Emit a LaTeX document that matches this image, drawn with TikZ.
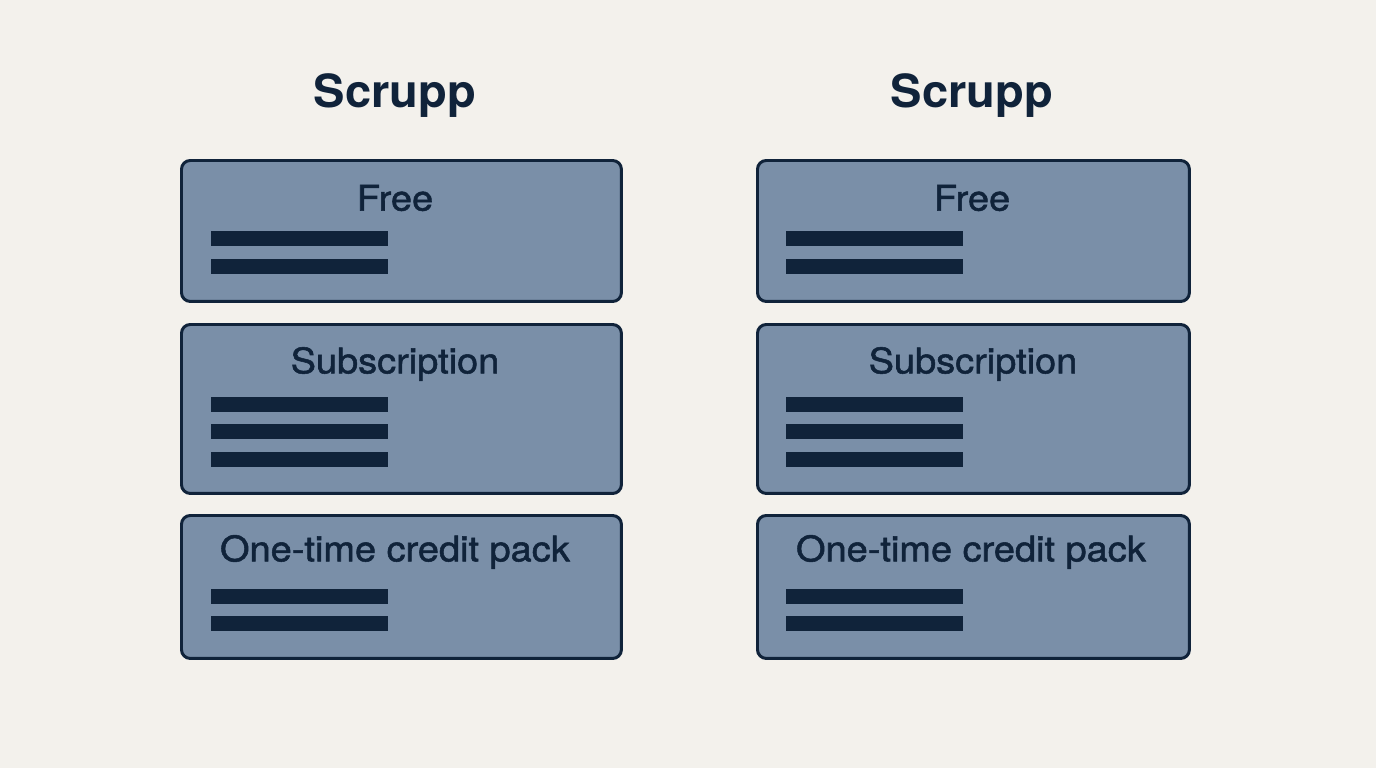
\documentclass[tikz,border=0pt]{standalone}
\usepackage{fontspec}
\setmainfont{TeX Gyre Heros}
\newfontfamily\lblfont[FakeBold=1.5, FakeStretch=1.08]{TeX Gyre Heros}
\newfontfamily\ttlfont[FakeStretch=1.03]{TeX Gyre Heros}
\usetikzlibrary{positioning}
\definecolor{bgcream}{HTML}{F3F1EC}
\definecolor{tierfill}{HTML}{7A8FA8}
\definecolor{inkdark}{HTML}{10233A}

\begin{document}
\begin{tikzpicture}[x=0.02cm, y=-0.02cm,
  tier/.style={rectangle, rounded corners=5pt, draw=inkdark, line width=1.7pt,
    fill=tierfill, anchor=north west, inner sep=0pt},
  tierL/.style={tier, minimum width=8.8cm},
  tierR/.style={tier, minimum width=8.64cm},
  ttl/.style={font=\ttlfont\fontsize{26}{30}\selectfont\bfseries, text=inkdark},
  lbl/.style={font=\lblfont\fontsize{20}{24}\selectfont, text=inkdark},
  bar/.style={fill=inkdark},
]
  \fill[bgcream] (0,0) rectangle (1376,768);
  \useasboundingbox (0,0) rectangle (1376,768);

  % titles
  \node[ttl] (ttlL) at (395,96) {Scrupp};
  \node[ttl] (ttlR) at (972,96) {Scrupp};

  % left column
  \node[tierL, minimum height=2.82cm] (freeL) at (180,159) {};
  \node[tierL, minimum height=3.38cm] (subL)  at (180,323) {};
  \node[tierL, minimum height=2.86cm] (packL) at (180,514) {};

  % right column
  \node[tierR, minimum height=2.82cm] (freeR) at (756,159) {};
  \node[tierR, minimum height=3.38cm] (subR)  at (756,323) {};
  \node[tierR, minimum height=2.86cm] (packR) at (756,514) {};

  % tier names
  \node[lbl] (freeLtxt) at (395,198) {Free};
  \node[lbl] (subLtxt)  at (395,364) {Subscription};
  \node[lbl] (packLtxt) at (395,552) {One-time credit pack};
  \node[lbl] (freeRtxt) at (972,198) {Free};
  \node[lbl] (subRtxt)  at (973,364) {Subscription};
  \node[lbl] (packRtxt) at (971,552) {One-time credit pack};

  % placeholder text lines
  \foreach \x in {211,786}{
    \foreach \y in {238,266,404,431,459,596,623}
      \fill[bar] (\x,\y-7.5) rectangle (\x+177,\y+7.5);
  }
\end{tikzpicture}
\end{document}
